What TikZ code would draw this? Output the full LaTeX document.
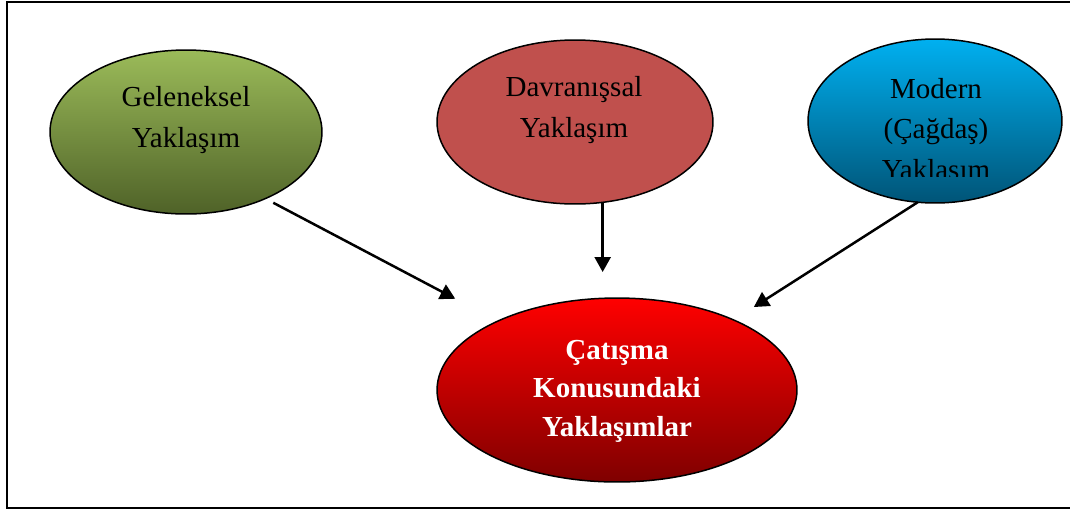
\documentclass[tikz,border=0pt]{standalone}
\usepackage{fontspec}
\setmainfont{Liberation Serif}
\usepackage{tikz}
\usetikzlibrary{shapes,arrows.meta,positioning,calc}
\usepackage{xcolor}
\definecolor{olivetop}{RGB}{155,187,89}
\definecolor{olivebot}{RGB}{79,98,40}
\definecolor{brick}{RGB}{192,80,77}
\definecolor{skytop}{RGB}{0,176,240}
\definecolor{skybot}{RGB}{0,84,119}
\definecolor{redtop}{RGB}{255,0,0}
\definecolor{redbot}{RGB}{127,0,0}
\tikzset{
  pointer/.style={-{Triangle[length=0.3cm,width=0.32cm]}, draw, black, line width=0.05cm},
}

\begin{document}
\begin{tikzpicture}[x=0.02cm,y=-0.02cm,
            oval/.style={ellipse,draw=black,line width=0.03cm,inner sep=0pt,outer sep=0pt,minimum height=3.28cm},
            word/.style={align=center,font=\fontsize{16.5}{22.8}\selectfont}]
            \useasboundingbox (0,0) rectangle (1070,511);
            \draw [line width=0.045cm] (1080,2) -- (7,2) -- (7,508) -- (1080,508);

            % the four approaches
            \node[oval,minimum width=5.44cm,top color=olivetop,bottom color=olivebot] (gel) at (186,132) {};
            \node[oval,minimum width=5.52cm,fill=brick] (dav) at (575,122) {};
            \node[oval,minimum width=5.08cm,top color=skytop,bottom color=skybot] (mod) at (935,121) {};
            \node[oval,minimum width=7.2cm,minimum height=3.68cm,top color=redtop,bottom color=redbot] (cat) at (617,390) {};

            \node[word] (gel-t) at (186,120) {Geleneksel\\Yaklaşım};
            \node[word] (dav-t) at (574,110) {Davranışsal\\Yaklaşım};
            \begin{scope}
              \clip (800,0) rectangle (1070,176);
              \node[word] (mod-t) at (936,132) {Modern\\(Çağdaş)\\Yaklaşım};
            \end{scope}
            \node[word,font=\bfseries\fontsize{16.5}{21.9}\selectfont,text=white] (cat-t) at (617,391) {Çatışma\\Konusundaki\\Yaklaşımlar};

            \draw [pointer,shorten <=0.18cm,shorten >=0.96cm] (gel.-40) to (cat.150);
            \draw [pointer,shorten >=0.52cm] (dav.-71) to (dav.-71 |- cat.north);
            \draw [pointer,shorten >=0.48cm] (mod.-102) to (cat.31);
\end{tikzpicture}
\end{document}
